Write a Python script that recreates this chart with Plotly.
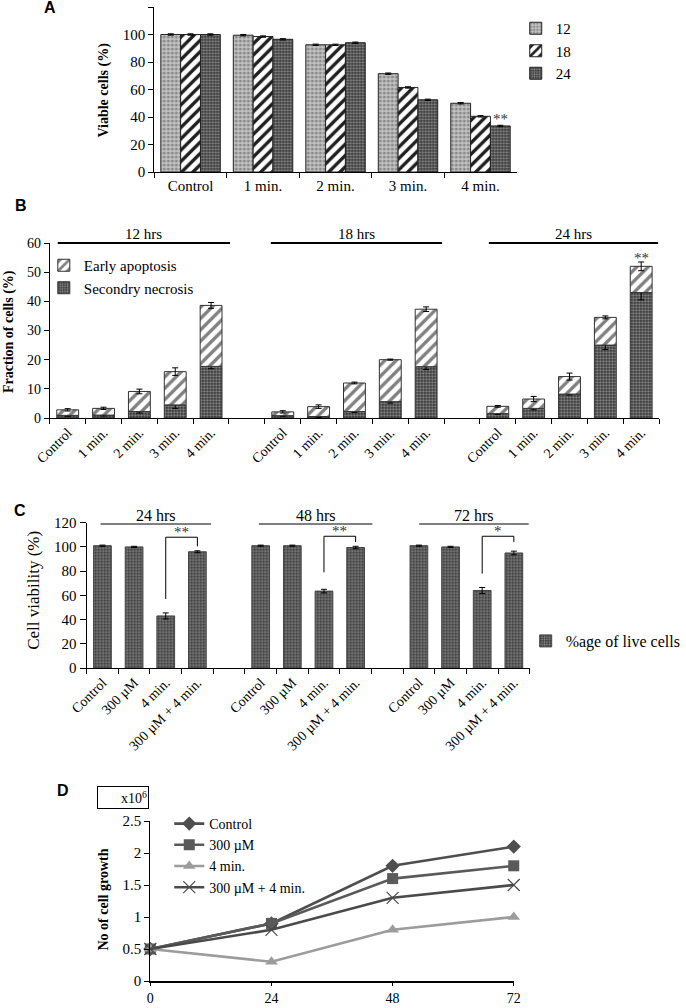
import plotly.graph_objects as go

W, H = 686, 1008
def fx(p): return p / W
def fy(p): return 1 - p / H

SERIF = "Liberation Serif"
SANS = "Liberation Sans"
ZW = "\u200b"

# ---------------- Panel A data ----------------
a_categories = ["Control", "1 min.", "2 min.", "3 min.", "4 min."]
a_series_names = ["12", "18", "24"]
a_12h = [100, 99.5, 92.5, 71.5, 50.0]
a_18h = [100, 98.5, 92.5, 61.5, 40.5]
a_24h = [100, 96.5, 94.0, 52.5, 33.5]
a_err = [0.5, 0.5, 0.5, 0.5, 0.5]

# ---------------- Panel B data ----------------
b_groups = ["12 hrs", "18 hrs", "24 hrs"]
b_treatments = ["Control", "1 min.", "2 min.", "3 min.", "4 min."]
b_necrosis_12 = [0.9, 1.0, 2.2, 4.5, 17.7]
b_apoptosis_12 = [1.9, 2.3, 6.9, 11.4, 20.9]
b_necrosis_18 = [0.8, 0.5, 2.2, 5.6, 17.6]
b_apoptosis_18 = [1.3, 3.4, 9.8, 14.4, 19.7]
b_necrosis_24 = [1.5, 3.3, 8.2, 25.0, 43.0]
b_apoptosis_24 = [2.5, 3.2, 6.0, 9.5, 9.0]
b_nec_err_12 = [0.3, 0.3, 0.5, 1.2, 0.8]
b_tot_err_12 = [0.4, 0.4, 0.8, 1.3, 1.0]
b_nec_err_18 = [0.2, 0.3, 0.3, 0.5, 1.0]
b_tot_err_18 = [0.4, 0.6, 0.3, 0.2, 0.8]
b_nec_err_24 = [0.3, 0.5, 0.3, 1.5, 2.5]
b_tot_err_24 = [0.3, 0.9, 1.2, 0.5, 1.5]

# ---------------- Panel C data ----------------
c_groups = ["24 hrs", "48 hrs", "72 hrs"]
c_treatments = ["Control", "300 µM", "4 min.", "300 µM + 4 min."]
c_viability_24 = [101, 100, 43, 96]
c_viability_48 = [101, 101, 63.5, 99.5]
c_viability_72 = [101, 100, 64, 95]
c_err_24 = [0.5, 0.5, 2.5, 0.8]
c_err_48 = [0.5, 0.5, 1.5, 1.0]
c_err_72 = [0.5, 0.5, 2.5, 1.5]
c_sig_marks = ["**", "**", "*"]

# ---------------- Panel D data ----------------
d_hours = [0, 24, 48, 72]
d_series_names = ["Control", "300 µM", "4 min.", "300 µM + 4 min."]
d_control = [0.5, 0.9, 1.8, 2.1]
d_300um = [0.5, 0.9, 1.6, 1.8]
d_4min = [0.5, 0.3, 0.8, 1.0]
d_300um_4min = [0.5, 0.8, 1.3, 1.5]


def build(groups, treatments, per_group, blank=None):
    """Unique category keys (zero-width spaces) with blank separator slots."""
    keys, vals = [], []
    for gi, _ in enumerate(groups):
        if gi > 0:
            keys.append(ZW * gi)
            vals.append(blank)
        for ti, t in enumerate(treatments):
            keys.append(t + ZW * gi)
            vals.append(per_group[gi][ti])
    return keys, vals


b_keys, b_nec = build(b_groups, b_treatments, [b_necrosis_12, b_necrosis_18, b_necrosis_24])
_, b_apo = build(b_groups, b_treatments, [b_apoptosis_12, b_apoptosis_18, b_apoptosis_24])
_, b_base = build(b_groups, b_treatments, [b_necrosis_12, b_necrosis_18, b_necrosis_24], blank=0)
_, b_nec_e = build(b_groups, b_treatments, [b_nec_err_12, b_nec_err_18, b_nec_err_24], blank=0)
_, b_tot_e = build(b_groups, b_treatments, [b_tot_err_12, b_tot_err_18, b_tot_err_24], blank=0)

c_keys, c_vals = build(c_groups, c_treatments, [c_viability_24, c_viability_48, c_viability_72])
_, c_errs = build(c_groups, c_treatments, [c_err_24, c_err_48, c_err_72], blank=0)

# ---------------- styles ----------------
pat_light = dict(shape=".", bgcolor="#c4c4c4", fgcolor="#8a8a8a", size=4, solidity=0.45)
pat_stripe = dict(shape="/", bgcolor="white", fgcolor="#1e1e1e", size=8, solidity=0.42)
pat_dark = dict(shape=".", bgcolor="#363636", fgcolor="#8a8a8a", size=3, solidity=0.45)
pat_stripe_light = dict(shape="/", bgcolor="white", fgcolor="#808080", size=8, solidity=0.42)
err_style = dict(type="data", color="black", thickness=1, width=3)

fig = go.Figure()

# Panel A
for name, vals, pat in zip(a_series_names, [a_12h, a_18h, a_24h], [pat_light, pat_stripe, pat_dark]):
    fig.add_trace(go.Bar(
        x=a_categories, y=vals, name=name, xaxis="x", yaxis="y", legend="legend",
        marker=dict(color=pat["bgcolor"], pattern=pat, line=dict(color="#222222", width=1)),
        error_y=dict(array=a_err, **err_style)))

# Panel B
fig.add_trace(go.Bar(
    x=b_keys, y=b_nec, name="Secondry necrosis", xaxis="x2", yaxis="y2", legend="legend2",
    offset=-0.305, width=0.61,
    marker=dict(color=pat_dark["bgcolor"], pattern=pat_dark, line=dict(color="#333333", width=1)),
    error_y=dict(array=b_nec_e, **err_style)))
fig.add_trace(go.Bar(
    x=b_keys, y=b_apo, base=b_base, name="Early apoptosis", xaxis="x2", yaxis="y2", legend="legend2",
    offset=-0.305, width=0.61,
    marker=dict(color="white", pattern=pat_stripe_light, line=dict(color="#333333", width=1)),
    error_y=dict(array=b_tot_e, **err_style)))

# Panel C
fig.add_trace(go.Bar(
    x=c_keys, y=c_vals, name="%age of live cells", xaxis="x3", yaxis="y3", legend="legend3",
    offset=-0.28, width=0.56,
    marker=dict(color=pat_dark["bgcolor"], pattern=pat_dark, line=dict(color="#444444", width=1)),
    error_y=dict(array=c_errs, **err_style)))

# Panel D
d_styles = [
    dict(color="#4e4e4e", symbol="diamond", size=11),
    dict(color="#5a5a5a", symbol="square", size=11),
    dict(color="#9c9c9c", symbol="triangle-up", size=11),
    dict(color="#4a4a4a", symbol="x-thin-open", size=12),
]
for name, vals, st in zip(d_series_names, [d_control, d_300um, d_4min, d_300um_4min], d_styles):
    mk = dict(symbol=st["symbol"], size=st["size"], color=st["color"])
    if st["symbol"] == "x-thin-open":
        mk["line"] = dict(color="#777777", width=1.2)
    fig.add_trace(go.Scatter(
        x=d_hours, y=vals, name=name, xaxis="x4", yaxis="y4", legend="legend4",
        mode="lines+markers", cliponaxis=False,
        line=dict(color=st["color"], width=2.6), marker=mk))


def ax(fontsize=15, **kw):
    d = dict(showline=True, linecolor="black", linewidth=1, ticks="outside", ticklen=5,
             tickcolor="black", tickwidth=1, showgrid=False, zeroline=False, automargin=False,
             tickfont=dict(family=SERIF, size=fontsize, color="black"))
    d.update(kw)
    return d


def leg(size=14, **kw):
    d = dict(xanchor="left", yanchor="top", bgcolor="rgba(0,0,0,0)",
             font=dict(family=SERIF, size=size, color="black"), tracegroupgap=0)
    d.update(kw)
    return d


fig.update_layout(
    width=W, height=H, margin=dict(l=0, r=0, t=0, b=0), template="none",
    paper_bgcolor="white", plot_bgcolor="rgba(0,0,0,0)",
    barmode="group", bargap=0.18, bargroupgap=0, showlegend=True,
    xaxis=ax(domain=[fx(155), fx(519)], anchor="y", type="category", tickson="boundaries",
             tickmode="linear", tick0=0, dtick=1, range=[-0.5, 4.5]),
    yaxis=ax(domain=[fy(172), fy(7)], anchor="x", range=[0, 120], dtick=20),
    xaxis2=ax(14, domain=[fx(50), fx(662)], anchor="y2", type="category", tickson="boundaries",
              tickmode="linear", tick0=0, dtick=1, tickangle=-45, range=[-0.5, len(b_keys) - 0.5],
              categoryorder="array", categoryarray=b_keys),
    yaxis2=ax(14, domain=[fy(418), fy(243)], anchor="x2", range=[0, 60], dtick=10),
    xaxis3=ax(14, domain=[fx(87), fx(532)], anchor="y3", type="category", tickson="boundaries",
              tickmode="linear", tick0=0, dtick=1, tickangle=-45, range=[-0.5, len(c_keys) - 0.5],
              categoryorder="array", categoryarray=c_keys),
    yaxis3=ax(15, domain=[fy(668), fy(522.7)], anchor="x3", range=[0, 120], dtick=20, ticklen=6),
    xaxis4=ax(14, domain=[fx(151), fx(516)], anchor="y4", range=[0, 72], tickmode="array",
              tickvals=d_hours, linewidth=1.5, ticklen=3),
    yaxis4=ax(15, domain=[fy(981), fy(821)], anchor="x4", range=[0, 2.5], dtick=0.5),
    legend=leg(15, x=fx(518), y=fy(12)),
    legend2=leg(15, x=fx(44), y=fy(249), traceorder="reversed"),
    legend3=leg(16, x=fx(528), y=fy(624)),
    legend4=leg(14, x=fx(170), y=fy(808)),
)

ann = []
shapes = []


def note(text, x, y, size, family=SERIF, **kw):
    d = dict(text=text, x=fx(x), y=fy(y), xref="paper", yref="paper", xanchor="center",
             yanchor="middle", showarrow=False, font=dict(family=family, size=size, color="black"))
    d.update(kw)
    ann.append(d)


# Panel letters
for letter, (px_, py_) in zip("ABCD", [(50, 8), (21, 206), (20, 510), (63, 790)]):
    note(f"<b>{letter}</b>", px_, py_, 16, family=SANS)

# Y titles
for text, (px_, py_), size in [("<b>Viable cells (%)</b>", (104, 90), 14),
                               ("<b>Fraction of cells (%)</b>", (9, 331), 14),
                               ("Cell viability (%)", (33, 590), 17),
                               ("<b>No of cell growth</b>", (103, 900), 14)]:
    note(text, px_, py_, size, textangle=-90)

# Panel A significance
ann.append(dict(text="**", x=a_categories.index("4 min.") + 0.27, y=a_24h[4], xref="x", yref="y",
                xanchor="center", yanchor="bottom", showarrow=False, yshift=-3,
                font=dict(family=SERIF, size=15, color="#333333")))

# Panel B group labels
for g, (x0, x1) in zip(b_groups, [(58, 231), (272, 444), (491, 661)]):
    shapes.append(dict(type="line", xref="paper", yref="paper", x0=fx(x0), x1=fx(x1),
                       y0=fy(243), y1=fy(243), line=dict(color="black", width=2)))
    note(g, (x0 + x1) / 2, 234, 15)
k24 = b_keys.index("4 min." + ZW * 2)
ann.append(dict(text="**", x=k24, y=b_nec[k24] + b_apo[k24] + b_tot_e[k24], xref="x2", yref="y2",
                xanchor="center", yanchor="bottom", showarrow=False, yshift=-6,
                font=dict(family=SERIF, size=15, color="#333333")))

# Panel C group labels
for g, (x0, x1) in zip(c_groups, [(101, 212), (260, 374), (421, 531)]):
    shapes.append(dict(type="line", xref="paper", yref="paper", x0=fx(x0), x1=fx(x1),
                       y0=fy(524), y1=fy(524), line=dict(color="black", width=1)))
    note(g, (x0 + x1) / 2, 515, 16)

# Panel C brackets
bracket_levels = [(57, 108, 100.5), (79, 108.8, 104), (78, 108.8, 104)]
for gi, (mark, (yl, yt, yr)) in enumerate(zip(c_sig_marks, bracket_levels)):
    xl = c_keys.index("4 min." + ZW * gi)
    xr = c_keys.index("300 µM + 4 min." + ZW * gi)
    for (x0, y0, x1, y1) in [(xl, yl, xl, yt), (xl, yt, xr, yt), (xr, yt, xr, yr)]:
        shapes.append(dict(type="line", xref="x3", yref="y3", x0=x0, y0=y0, x1=x1, y1=y1,
                           line=dict(color="black", width=1)))
    ann.append(dict(text=mark, x=(xl + xr) / 2, y=yt, xref="x3", yref="y3", xanchor="center",
                    yanchor="bottom", showarrow=False, yshift=-5,
                    font=dict(family=SERIF, size=15, color="#333333")))

# Panel D multiplier box
note("x10<sup>6</sup>", 124, 797, 14, bordercolor="black", borderwidth=1, width=48, height=19,
     align="right")

fig.update_layout(annotations=ann, shapes=shapes)
fig.write_html("out.html", config={"displayModeBar": False},
               post_script="document.body.style.margin='0';")
